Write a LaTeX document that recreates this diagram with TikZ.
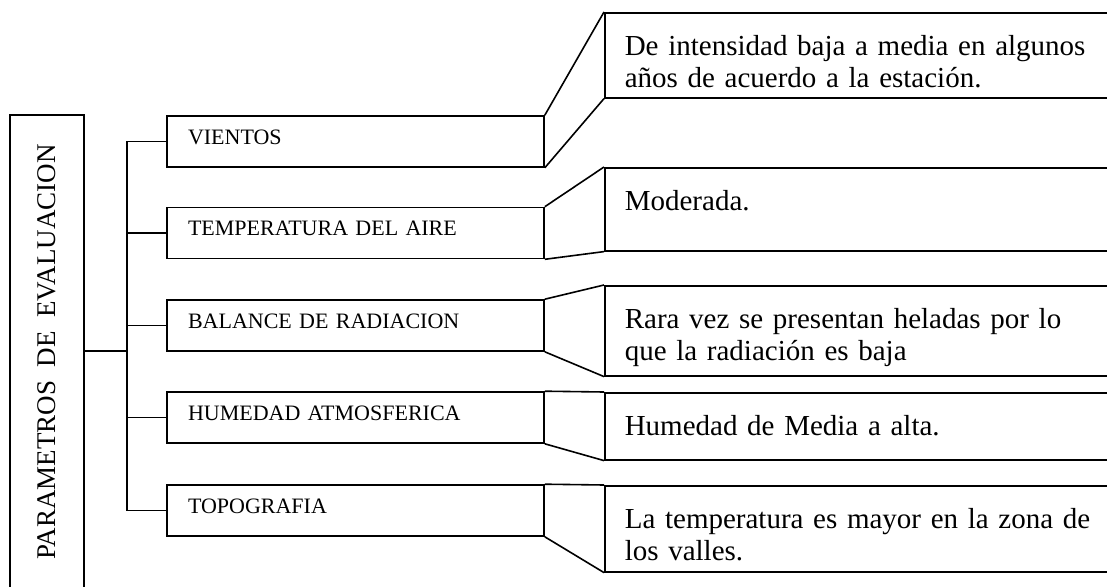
\documentclass[tikz,border=0pt]{standalone}
\usepackage{fontspec}
\setmainfont{Liberation Serif}
\usepackage{graphicx}

\begin{document}
\begin{tikzpicture}[x=1pt,y=-1pt,line width=1.6pt,
	lbox/.style={draw,minimum width=377pt,minimum height=51pt,text width=335pt,inner xsep=21pt,align=left,text height=15pt,text depth=10pt,font=\fontsize{22}{26}\selectfont},
	rbox/.style={draw,anchor=north west,inner xsep=20pt,inner ysep=0pt,text width=486pt,align=left,text height=43pt,font=\fontsize{29}{32}\selectfont}]
	\useasboundingbox (0,0) rectangle (1107,586);
	\node[draw,minimum width=74pt,minimum height=474pt,inner sep=0,font=\fontsize{27}{30}\selectfont] (0) at (47,352) {\rotatebox{90}{PARAMETROS\ \ DE\ \ EVALUACION}};
	\node[lbox] (1) at (355.5,141.5) {VIENTOS};
	\node[lbox] (2) at (355.5,233) {TEMPERATURA DEL AIRE};
	\node[lbox] (3) at (355.5,325.5) {BALANCE DE RADIACION};
	\node[lbox] (4) at (355.5,417.5) {HUMEDAD ATMOSFERICA};
	\node[lbox] (5) at (355.5,510.5) {TOPOGRAFIA};
	\node[rbox,text depth=42pt] (6) at (604,12) {De intensidad baja a media en algunos\\años de acuerdo a la estación.};
	\node[rbox,text depth=40pt] (7) at (604,167) {Moderada.};
	\node[rbox,text depth=47pt] (8) at (604,285) {Rara vez se presentan heladas por lo\\que la radiación es baja};
	\node[rbox,text depth=24pt] (9) at (604,392) {Humedad de Media a alta.};
	\node[rbox,text depth=43pt] (10) at (604,485) {La temperatura es mayor en la zona de\\los valles.};
	\coordinate (c) at (127,351);
	\draw (0.east |- c) -- (c);
	\draw (1.west) -| (c) |- (5.west);
	\draw (2.west) -- (2.west -| c);
	\draw (3.west) -- (3.west -| c);
	\draw (4.west) -- (4.west -| c);
	\draw (1.north east) -- (6.north west) (1.south east) -- (6.south west);
	\draw (2.north east) -- (7.north west) (2.south east) -- (7.south west);
	\draw (3.north east) -- (8.north west) (3.south east) -- (8.south west);
	\draw (4.north east) -- (9.north west) (4.south east) -- (9.south west);
	\draw (5.north east) -- (10.north west) (5.south east) -- (10.south west);
\end{tikzpicture}
\end{document}
